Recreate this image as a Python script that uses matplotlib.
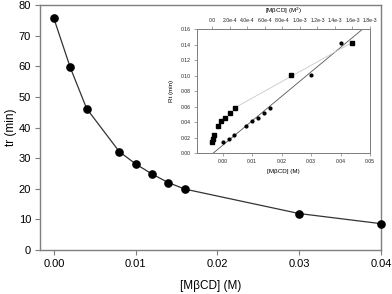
import numpy as np
import matplotlib
matplotlib.use("Agg")
import matplotlib.pyplot as plt

plt.rcParams['font.family'] = ['Liberation Sans', 'DejaVu Sans']

# ---- data ----
conc = [0.000, 0.002, 0.004, 0.008, 0.010, 0.012, 0.014, 0.016, 0.030, 0.040]
tr = [75.6, 59.6, 46.2, 32.1, 28.1, 24.8, 22.0, 19.9, 11.9, 8.6]

conc_sq = [0.0, 4.0e-6, 1.6e-5, 6.4e-5, 1.0e-4, 1.44e-4, 1.96e-4, 2.56e-4, 9.0e-4, 1.6e-3]
rt = [0.0142, 0.0188, 0.0239, 0.0351, 0.0412, 0.0458, 0.0515, 0.0579, 0.1004, 0.1423]

main_xticks = [0.00, 0.01, 0.02, 0.03, 0.04]
main_xticklabels = ["0.00", "0.01", "0.02", "0.03", "0.04"]
main_yticks = [0, 10, 20, 30, 40, 50, 60, 70, 80]

in_xticks = [0.00, 0.01, 0.02, 0.03, 0.04, 0.05]
in_xticklabels = ["0.00", "0.01", "0.02", "0.03", "0.04", "0.05"]
in_yticks = [0.00, 0.02, 0.04, 0.06, 0.08, 0.10, 0.12, 0.14, 0.16]
in_yticklabels = ["0.00", "0.02", "0.04", "0.06", "0.08", "0.10", "0.12", "0.14", "0.16"]
top_xticks = [0.0, 2.0e-4, 4.0e-4, 6.0e-4, 8.0e-4, 1.0e-3, 1.2e-3, 1.4e-3, 1.6e-3, 1.8e-3]
top_xticklabels = ["0.0", "2.0e-4", "4.0e-4", "6.0e-4", "8.0e-4", "1.0e-3",
                   "1.2e-3", "1.4e-3", "1.6e-3", "1.8e-3"]

spine_gray = "#7f7f7f"

fig = plt.figure(figsize=(3.92, 2.94), dpi=100)

# ---- main axes ----
ax = fig.add_axes([40/392, 1-250/294, (381-40)/392, (250-5)/294])
ax.plot(conc, tr, color="#333333", lw=0.9, marker="o", ms=5.2,
        mfc="black", mec="black", zorder=3, clip_on=False)
ax.set_xlim(-0.0017, 0.040)
ax.set_ylim(0, 80)
ax.set_xticks(main_xticks)
ax.set_xticklabels(main_xticklabels)
ax.set_yticks(main_yticks)
for s in ax.spines.values():
    s.set_color(spine_gray)
    s.set_linewidth(1.0)
ax.tick_params(axis="both", direction="out", length=3.5, width=0.8,
               color=spine_gray, labelsize=8, pad=3)
ax.tick_params(top=False, right=False)
ax.set_xlabel("[M\u03b2CD] (M)", fontsize=8.5, labelpad=8)
ax.set_ylabel("tr (min)", fontsize=8.5, labelpad=1)

# ---- inset axes ----
axi = fig.add_axes([196.7/392, 1-153.3/294, (370-196.7)/392, (153.3-29)/294])
axi.set_facecolor("white")
xlo, xhi = -0.0088, 0.050
axi.set_xlim(xlo, xhi)
axi.set_ylim(0, 0.16)

# linear fit of Rt vs [M]
p1 = np.polyfit(conc, rt, 1)
xl = np.array([xlo, xhi])
axi.plot(xl, np.polyval(p1, xl), color="#555555", lw=0.6, zorder=2)
axi.plot(conc, rt, ls="none", marker="o", ms=2.0, mfc="black", mec="black", zorder=3)

axi.set_xticks(in_xticks)
axi.set_xticklabels(in_xticklabels)
axi.set_yticks(in_yticks)
axi.set_yticklabels(in_yticklabels)
for s in axi.spines.values():
    s.set_color(spine_gray)
    s.set_linewidth(0.7)
axi.tick_params(axis="both", direction="out", length=2, width=0.5,
                color=spine_gray, labelsize=3.7, pad=2, labelcolor="#222222")
axi.set_xlabel("[M\u03b2CD] (M)", fontsize=4.5, labelpad=4)
axi.set_ylabel("Rt (min)", fontsize=4.5, labelpad=5)

# top axis: Rt vs [M]^2
axt = axi.twiny()
axt.set_xlim(-1.8e-4, 1.8e-3)
sub_x = conc_sq[7:]
sub_y = rt[7:]
p2 = np.polyfit(sub_x, sub_y, 1)
xs = np.array([sub_x[0], sub_x[-1]])
axt.plot(xs, np.polyval(p2, xs), color="#c8c8c8", lw=0.6, zorder=2)
axt.plot(conc_sq, rt, ls="none", marker="s", ms=2.2, mfc="black", mec="black", zorder=3)
axt.set_xticks(top_xticks)
axt.set_xticklabels(top_xticklabels)
for s in axt.spines.values():
    s.set_color(spine_gray)
    s.set_linewidth(0.7)
axt.tick_params(axis="x", direction="out", length=2, width=0.5,
                color=spine_gray, labelsize=3.7, pad=2, labelcolor="#222222")
axt.set_xlabel("[M\u03b2CD] (M$^2$)", fontsize=4.5, labelpad=4)

fig.savefig("out.png", dpi=100)
